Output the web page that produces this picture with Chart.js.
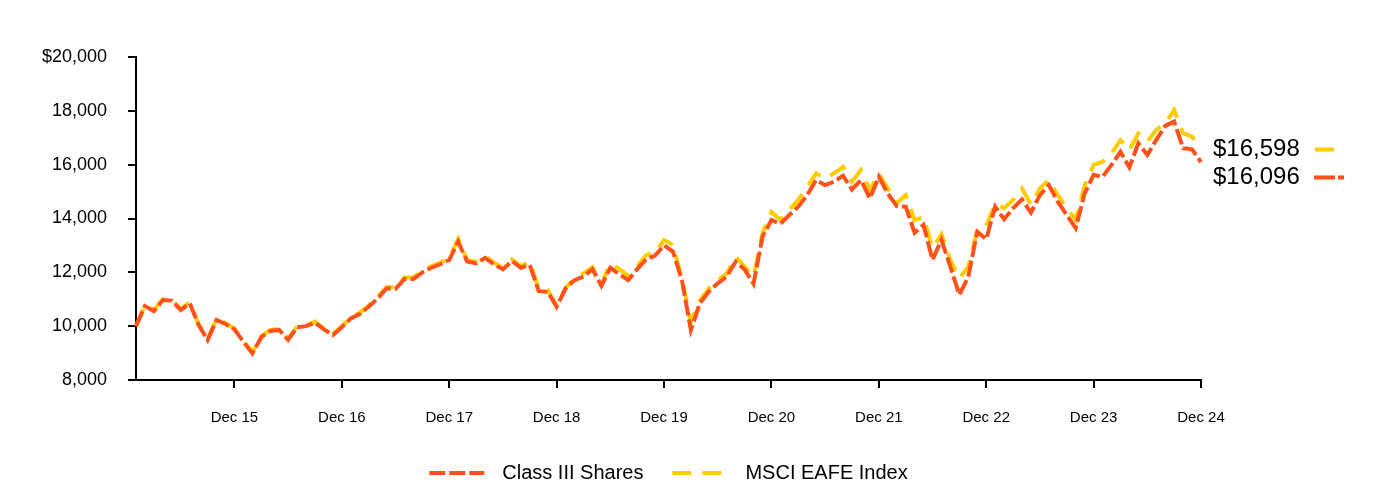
<!DOCTYPE html>
<html>
<head>
<meta charset="utf-8">
<script src="https://cdn.jsdelivr.net/npm/chart.js@4"></script>
<style>
  html, body { margin: 0; padding: 0; background: #fff; overflow: hidden; }
</style>
</head>
<body>
<canvas id="chart" width="1384" height="493"></canvas>
<script>
"use strict";

// month-end values of a $10,000 investment, Jan 15 .. Dec 24
const classIII = [
    10000, 10750, 10560, 10970, 10950, 10600, 10850, 10040, 9490, 10230, 10080, 9880,
    9420, 8990, 9590, 9820, 9860, 9490, 9960, 10000, 10130, 9880, 9670, 9960,
    10290, 10450, 10720, 11030, 11400, 11390, 11750, 11750, 12000, 12170, 12300, 12460,
    13140, 12400, 12330, 12540, 12300, 12110, 12420, 12170, 12270, 11300, 11280, 10720,
    11400, 11710, 11840, 12120, 11500, 12170, 11930, 11710, 12120, 12490, 12620, 13000,
    12770, 11710, 9860, 10850, 11280, 11590, 11840, 12390, 12110, 11570, 13320, 13940,
    13800, 14130, 14440, 14870, 15430, 15240, 15370, 15590, 15080, 15430, 14750, 15550,
    14930, 14460, 14440, 13470, 13760, 12460, 13210, 12200, 11160, 11840, 13510, 13230,
    14440, 13970, 14380, 14710, 14220, 14870, 15240, 14620, 14130, 13640, 14930, 15620,
    15550, 15990, 16480, 15900, 16790, 16360, 16920, 17440, 17600, 16610, 16570, 16096
];
const msciEafe = [
    10000, 10780, 10600, 11000, 10980, 10640, 10880, 10080, 9520, 10260, 10120, 9910,
    9460, 9030, 9630, 9860, 9900, 9530, 10000, 10040, 10170, 9920, 9710, 10000,
    10330, 10500, 10770, 11080, 11450, 11440, 11810, 11810, 12060, 12230, 12360, 12520,
    13240, 12460, 12390, 12600, 12360, 12170, 12480, 12230, 12390, 11380, 11360, 10740,
    11420, 11770, 11960, 12180, 11560, 12320, 12130, 11860, 12220, 12640, 12720, 13200,
    13020, 11760, 10160, 10950, 11400, 11710, 11960, 12580, 12210, 11840, 13440, 14250,
    13950, 14320, 14690, 15180, 15680, 15490, 15680, 15920, 15370, 15800, 15060, 15670,
    15120, 14560, 14870, 13940, 14050, 12900, 13410, 12450, 11780, 12210, 13570, 13700,
    14560, 14380, 14690, 15120, 14510, 15120, 15430, 14870, 14380, 13950, 15240, 15990,
    16110, 16420, 16910, 16540, 17160, 16860, 17290, 17540, 18030, 17170, 17040, 16598
];

const seriesNames = ["Class III Shares", "MSCI EAFE Index"];
const years = ["15", "16", "17", "18", "19", "20", "21", "22", "23", "24"];
const monthNames = ["Jan", "Feb", "Mar", "Apr", "May", "Jun", "Jul", "Aug", "Sep", "Oct", "Nov", "Dec"];
const xTickLabels = ["Dec 15", "Dec 16", "Dec 17", "Dec 18", "Dec 19", "Dec 20", "Dec 21", "Dec 22", "Dec 23", "Dec 24"];
const yTickLabels = { 8000: "8,000", 10000: "10,000", 12000: "12,000", 14000: "14,000",
                      16000: "16,000", 18000: "18,000", 20000: "$20,000" };

const ORANGE = "#FF5119";
const YELLOW = "#FFCC00";
const FONT = "'Liberation Sans', Arial, sans-serif";

let months = [];
years.forEach(y => monthNames.forEach(m => months.push(m + " " + y)));

const legendDash = [[16, 4, 16, 4, 15, 30], [19, 11, 19, 30]];

// "$16,598 —" style labels at the right end of the lines
const endLabels = {
    id: "endLabels",
    afterDraw(chart) {
        let ctx = chart.ctx;
        let y = chart.scales.y;
        let last = classIII.length - 1;
        let yMsci = y.getPixelForValue(msciEafe[last]) + 1;
        let yClass = y.getPixelForValue(classIII[last]);
        if (yClass - yMsci < 28) yClass = yMsci + 28;
        ctx.save();
        ctx.font = "24px " + FONT;
        ctx.fillStyle = "#000";
        ctx.textBaseline = "middle";
        ctx.fillText("$" + msciEafe[last].toLocaleString("en-US"), 1213, yMsci);
        ctx.fillText("$" + classIII[last].toLocaleString("en-US"), 1213, yClass);
        ctx.lineWidth = 4;
        ctx.strokeStyle = YELLOW;
        ctx.beginPath();
        ctx.moveTo(1315, yMsci);
        ctx.lineTo(1334, yMsci);
        ctx.stroke();
        ctx.strokeStyle = ORANGE;
        ctx.setLineDash([21, 3, 6, 100]);
        ctx.beginPath();
        ctx.moveTo(1314, yClass);
        ctx.lineTo(1344, yClass);
        ctx.stroke();
        ctx.restore();
    }
};

let ctx = document.getElementById("chart").getContext("2d");
let chart = new Chart(ctx, {
    type: "line",
    data: {
        labels: months,
        datasets: [{
            label: seriesNames[0],
            data: classIII,
            borderColor: ORANGE,
            backgroundColor: ORANGE,
            borderWidth: 4,
            borderDash: [16, 4],
            pointRadius: 0,
            tension: 0
        }, {
            label: seriesNames[1],
            data: msciEafe,
            borderColor: YELLOW,
            backgroundColor: YELLOW,
            borderWidth: 4,
            borderDash: [19, 11],
            pointRadius: 0,
            tension: 0
        }]
    },
    options: {
        responsive: false,
        animation: false,
        devicePixelRatio: 1,
        layout: { padding: { top: 57, right: 183, left: 0, bottom: 0 } },
        plugins: {
            tooltip: { enabled: false },
            legend: {
                position: "bottom",
                fullSize: false,
                labels: {
                    usePointStyle: true,
                    pointStyle: "line",
                    pointStyleWidth: 63,
                    padding: 29,
                    color: "#000",
                    font: { size: 20, family: FONT },
                    generateLabels(chart) {
                        let items = Chart.defaults.plugins.legend.labels.generateLabels(chart);
                        items.forEach((it, i) => {
                            it.lineDash = legendDash[i];
                            it.lineWidth = 4;
                        });
                        return items;
                    }
                }
            }
        },
        scales: {
            x: {
                type: "category",
                afterFit(scale) { scale.height = 54; },
                border: { color: "#000", width: 2 },
                grid: { drawOnChartArea: false, tickLength: 8, color: "#000", lineWidth: 2 },
                ticks: {
                    autoSkip: false,
                    maxRotation: 0,
                    padding: 21,
                    color: "#000",
                    font: { size: 15, family: FONT },
                    callback(v) {
                        let label = this.getLabelForValue(v);
                        return xTickLabels.includes(label) ? label : null;
                    }
                }
            },
            y: {
                min: 8000,
                max: 20000,
                afterFit(scale) { scale.width = 136; },
                border: { color: "#000", width: 2 },
                grid: { drawOnChartArea: false, tickLength: 8, color: "#000", lineWidth: 2 },
                ticks: {
                    stepSize: 2000,
                    padding: 21,
                    color: "#000",
                    font: { size: 18, family: FONT },
                    callback: v => yTickLabels[v]
                }
            }
        }
    },
    plugins: [endLabels]
});
</script>
</body>
</html>
